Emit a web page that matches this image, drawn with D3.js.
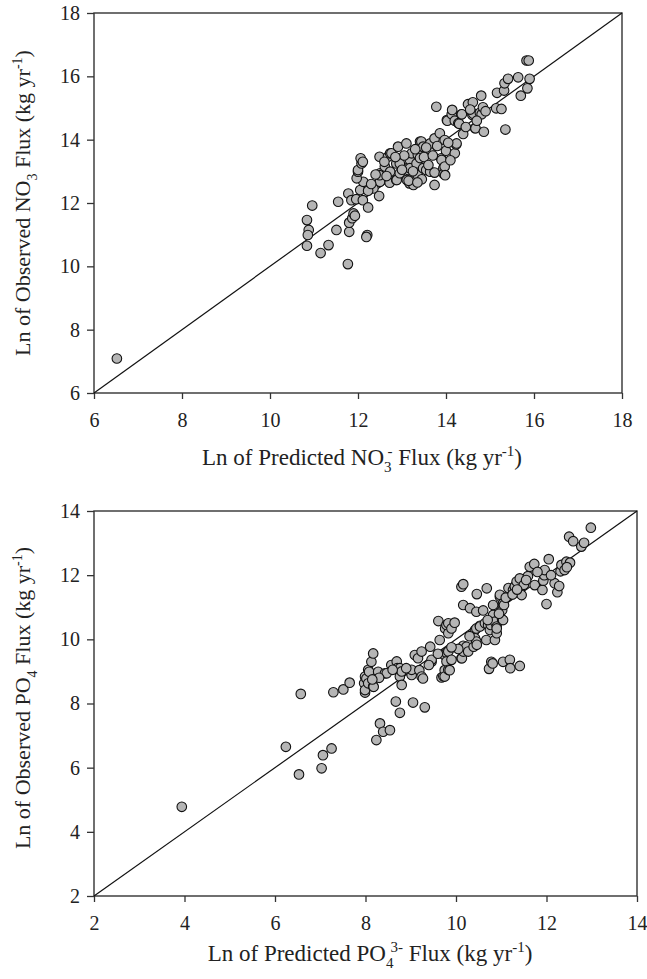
<!DOCTYPE html>
<html><head><meta charset="utf-8">
<script src="https://cdn.jsdelivr.net/npm/d3@7"></script>
<style>
body{margin:0;background:#fff}
svg{display:block}
text{font-family:"Liberation Serif","Times New Roman",serif;fill:#222}
</style>
</head><body><svg id="c" width="647" height="979"></svg>
<script>
// ---------- data ----------
const no3Ticks = [6, 8, 10, 12, 14, 16, 18];
const po4Ticks = [2, 4, 6, 8, 10, 12, 14];

const no3Predicted = [6.52,10.84,10.96,10.88,10.86,10.84,11.15,11.33,11.51,11.55,11.77,11.8,11.8,11.87,11.9,11.93,12.21,12.19,11.78,11.85,11.96,12.11,12.23,12.05,12.35,12.48,12.23,12.5,12.12,11.97,12.0,12.0,12.08,12.06,12.11,
12.49,12.5,12.49,12.61,12.68,12.73,12.73,12.76,12.72,12.87,12.87,12.88,12.91,12.95,12.95,13.1,13.11,13.14,13.17,13.18,13.18,13.17,13.22,13.25,13.26,13.33,13.33,13.36,13.36,13.41,13.41,13.44,13.48,13.48,13.55,13.63,13.63,13.64,13.64,13.74,13.74,13.74,13.78,13.86,13.89,13.9,13.94,13.95,13.97,13.97,13.98,14.0,14.02,14.03,14.13,14.14,14.2,14.2,14.23,14.24,14.28,14.3,14.35,14.36,14.39,14.5,14.6,14.61,14.62,14.66,14.67,14.77,14.8,14.81,14.84,14.86,
15.14,15.16,15.26,15.32,15.33,15.35,15.41,15.64,15.7,15.85,15.9,15.83,15.88,
13.3,13.5,13.55,13.7,13.8,13.05,12.85,12.6,12.65,13.0,13.25,13.45,13.6,14.1,14.05,14.45,14.55,14.7,14.9,12.3,12.4,13.15,13.35];
const no3Observed = [7.09,11.46,11.92,11.15,10.99,10.65,10.42,10.67,11.15,12.04,10.07,11.09,11.38,11.52,11.67,11.6,10.99,10.93,12.3,12.09,12.12,12.09,11.86,12.41,12.46,12.22,12.39,12.67,12.67,12.78,12.99,13.04,13.25,13.41,13.3,
13.46,12.94,12.88,13.15,13.46,13.57,12.99,13.57,12.64,13.25,12.73,12.73,13.78,12.94,13.25,13.88,12.73,13.04,13.15,13.36,13.1,12.62,13.57,12.67,12.57,12.83,13.25,12.88,13.52,13.94,13.42,13.94,13.78,13.1,13.04,13.86,13.62,13.88,12.99,14.04,12.96,12.57,15.04,14.2,13.41,13.36,13.1,12.92,13.15,13.99,12.88,13.65,14.62,14.6,14.8,14.94,13.57,14.6,13.85,13.88,14.52,14.5,14.8,14.8,14.18,15.12,14.78,15.18,14.82,14.36,14.36,14.85,15.39,14.8,15.02,14.25,
14.99,15.48,14.97,15.55,15.78,14.32,15.92,15.97,15.39,15.62,15.92,16.5,16.5,
13.7,13.45,13.75,13.5,13.8,13.5,13.45,13.3,12.85,13.05,13.0,12.75,13.2,13.35,13.9,14.4,14.95,14.6,14.9,12.6,12.9,12.7,12.65];

const po4Predicted = [3.94,6.24,6.53,6.57,7.03,7.06,7.25,7.29,7.51,7.65,
7.97,7.99,7.99,7.99,8.02,8.06,8.06,8.08,8.13,8.17,8.17,8.18,8.24,8.28,8.32,8.39,8.43,8.47,8.54,8.57,8.67,8.69,8.7,8.76,8.76,8.76,8.8,8.8,8.98,9.02,9.02,9.05,9.09,9.16,9.19,9.24,9.24,9.27,9.31,9.43,9.46,9.46,9.61,9.64,9.68,9.72,9.74,9.75,9.75,9.76,9.79,9.79,9.79,9.83,9.83,9.83,9.83,9.86,9.9,9.9,9.97,10.12,10.12,10.13,10.16,10.16,10.16,10.16,10.23,10.27,10.31,10.39,10.42,10.42,10.45,10.45,10.45,10.46,10.46,10.53,10.53,10.64,10.67,10.68,10.71,10.73,10.75,10.77,10.78,10.81,10.82,10.82,10.82,10.86,10.86,10.9,10.9,10.9,10.97,10.97,11.02,11.02,11.04,11.04,11.04,11.06,11.15,11.16,11.19,11.2,11.26,11.3,11.3,11.34,11.41,11.41,11.41,11.45,11.59,11.63,11.73,11.74,11.91,11.93,11.95,11.96,12.0,12.05,12.18,12.24,12.28,12.31,12.33,12.4,12.44,12.5,12.52,12.59,12.77,12.83,12.98,
10.6,10.95,11.1,11.25,11.5,11.55,11.35,10.7,10.3,10.05,9.9,9.6,9.4,8.9,8.6,8.3,8.15,11.8,12.1,12.45];
const po4Observed = [4.78,6.65,5.79,8.3,5.98,6.39,6.6,8.35,8.44,8.65,
8.63,8.34,8.42,8.84,8.78,8.63,9.05,8.99,9.3,9.56,8.53,8.52,6.86,8.99,7.38,7.12,8.94,8.94,7.17,9.2,8.06,9.31,9.1,8.84,7.71,9.1,8.58,9.0,9.01,8.89,9.05,8.03,9.51,9.41,9.04,9.62,8.84,8.78,7.88,9.77,9.3,9.36,10.57,9.98,8.81,8.85,9.51,9.04,8.84,10.34,10.45,9.58,9.31,10.19,10.5,9.62,9.05,9.04,10.34,9.36,10.52,9.41,11.64,9.41,11.72,11.07,9.8,9.62,9.77,9.62,10.97,9.77,10.29,10.03,10.86,10.34,9.93,11.41,9.83,10.42,10.4,10.5,9.98,11.59,10.45,9.08,10.29,10.45,9.3,9.25,11.07,10.71,10.76,9.98,10.55,10.4,10.19,10.34,11.33,11.39,10.91,10.62,9.3,11.12,10.6,11.07,11.35,11.6,9.36,9.1,11.54,11.64,11.65,11.8,11.9,11.56,9.17,11.38,11.97,12.26,12.35,11.69,11.54,11.83,12.0,12.16,11.1,12.5,11.75,11.47,11.66,12.12,12.32,12.16,12.42,13.2,12.39,13.06,12.89,13.01,13.48,
10.9,10.8,11.3,11.4,11.7,11.85,11.55,10.6,10.1,9.7,9.75,9.55,9.2,9.1,9.05,8.8,8.75,12.1,12.0,12.25];

// ---------- drawing ----------
const svg = d3.select('#c');

function richText(sel, segs, fs) {
  const small = Math.round(fs * 0.64);
  let cur = 0;
  segs.forEach(s => {
    const ts = sel.append('tspan').text(s.t);
    let target = 0;
    if (s.sub) target = fs * 0.3;
    if (s.sup) target = -fs * 0.38;
    const dy = target - cur;
    if (dy !== 0) ts.attr('dy', dy);
    cur = target;
    if (s.sub || s.sup) ts.style('font-size', small + 'px');
    if (s.dx) ts.attr('dx', s.dx);
  });
}

function panel(o) {
  const x = d3.scaleLinear().domain(o.domain).range([o.left, o.right]);
  const y = d3.scaleLinear().domain(o.domain).range([o.bottom, o.top]);
  const g = svg.append('g');

  const ax = g.append('g').attr('transform', `translate(0,${o.bottom})`)
    .call(d3.axisBottom(x).tickValues(o.ticks).tickSize(6).tickPadding(14).tickFormat(d3.format('d')));
  const ay = g.append('g').attr('transform', `translate(${o.left},0)`)
    .call(d3.axisLeft(y).tickValues(o.ticks).tickSize(7).tickPadding(7).tickFormat(d3.format('d')));
  [ax, ay].forEach(a => {
    a.select('.domain').remove();
    a.selectAll('line').attr('stroke', '#333').attr('stroke-width', 1.3);
    a.selectAll('text').style('font-size', '20px').attr('fill', '#222')
      .style('font-family', '"Liberation Serif","Times New Roman",serif');
  });

  // frame
  g.append('rect').attr('x', o.left).attr('y', o.top)
    .attr('width', o.right - o.left).attr('height', o.bottom - o.top)
    .attr('fill', 'none').attr('stroke', '#333').attr('stroke-width', 1.4);

  // 1:1 line
  g.append('line')
    .attr('x1', x(o.domain[0])).attr('y1', y(o.domain[0]))
    .attr('x2', x(o.domain[1])).attr('y2', y(o.domain[1]))
    .attr('stroke', '#111').attr('stroke-width', 1.2);

  // points
  g.append('g').selectAll('circle').data(o.xs.map((v, i) => [v, o.ys[i]]))
    .join('circle')
    .attr('cx', d => x(d[0])).attr('cy', d => y(d[1])).attr('r', 4.8)
    .attr('fill', '#b5b5b5').attr('stroke', '#111').attr('stroke-width', 1.1);

  // titles
  const xt = g.append('text').attr('x', o.xTitleX).attr('y', o.xTitleY)
    .attr('text-anchor', 'middle').style('font-size', '23px');
  richText(xt, o.xTitle, 23);
  const yt = g.append('text').attr('transform', `translate(${o.yTitleX},${o.yTitleY}) rotate(-90)`)
    .attr('text-anchor', 'middle').style('font-size', '22px');
  richText(yt, o.yTitle, 22);
}

panel({
  domain: [6, 18], ticks: no3Ticks, xs: no3Predicted, ys: no3Observed,
  left: 94, right: 622, top: 13, bottom: 393,
  xTitleX: 362, xTitleY: 465, yTitleX: 30, yTitleY: 203,
  xTitle: [{t: 'Ln of Predicted NO'}, {t: '3', sub: true}, {t: '-', sup: true, dx: -4}, {t: ' Flux (kg yr'}, {t: '-1', sup: true}, {t: ')'}],
  yTitle: [{t: 'Ln of Observed NO'}, {t: '3', sub: true}, {t: ' Flux (kg yr'}, {t: '-1', sup: true}, {t: ')'}]
});

panel({
  domain: [2, 14], ticks: po4Ticks, xs: po4Predicted, ys: po4Observed,
  left: 94, right: 637, top: 511, bottom: 896,
  xTitleX: 370, xTitleY: 961, yTitleX: 30, yTitleY: 698,
  xTitle: [{t: 'Ln of Predicted PO'}, {t: '4', sub: true}, {t: '3-', sup: true, dx: -3}, {t: ' Flux (kg yr'}, {t: '-1', sup: true}, {t: ')'}],
  yTitle: [{t: 'Ln of Observed PO'}, {t: '4', sub: true}, {t: ' Flux (kg yr'}, {t: '-1', sup: true}, {t: ')'}]
});
</script>
</body></html>
